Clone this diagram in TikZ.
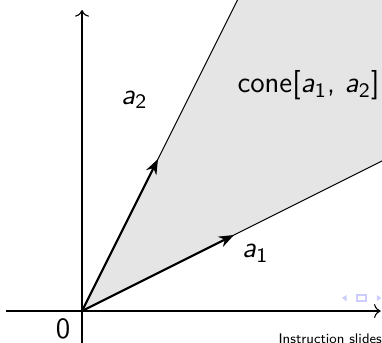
\documentclass[tikz,border=0pt]{standalone}
\usepackage{tikz}
\usetikzlibrary{arrows.meta}

\newcommand{\avec}[1]{\textit{a}\textsubscript{#1}}

\begin{document}
\begin{tikzpicture}[
    font=\sffamily\fontsize{11}{13}\selectfont,
    axisline/.style={thin, ->},
    raybound/.style={thin, black},
    genvec/.style={thick, -{Stealth[length=2mm]}},
    navsym/.style={fill=blue!20!white, draw=none}
]
    \useasboundingbox (-1.079,-0.408) rectangle (3.947,4.092);
    \clip (-1.079,-0.408) rectangle (3.947,4.092);

    \coordinate (O) at (0,0);
    \coordinate (A1) at (2,1);
    \coordinate (A2) at (1,2);
    \coordinate (R1) at (4.4,2.2);
    \coordinate (R2) at (2.2,4.4);

    % the cone
    \fill[gray!20] (O) -- (R2) -- (4.4,4.4) -- (R1) -- cycle;
    \draw[raybound] (O) -- (R1);
    \draw[raybound] (O) -- (R2);

    % axes
    \coordinate (XL) at (-1,0);
    \coordinate (XR) at (3.93,0);
    \coordinate (YB) at (0,-0.6);
    \coordinate (YT) at (0,3.96);
    \draw[axisline] (XL) -- (XR);
    \draw[axisline] (YB) -- (YT);

    \draw[genvec] (O) -- (A1);
    \draw[genvec] (O) -- (A2);

    \node (L1) at (2.28,0.76) {\avec{1}};
    \node (L2) at (0.69,2.78) {\avec{2}};
    \node (LC) at (2.98,2.97) {cone[\avec{1}, \avec{2}]};
    \node (L0) at (-0.25,-0.24) {0};

    % beamer footer leftovers
    \fill[navsym] (3.42,0.17) -- (3.48,0.21) -- (3.48,0.13) -- cycle;
    \draw[blue!20!white, thick] (3.62,0.13) rectangle (3.74,0.21);
    \fill[navsym] (3.94,0.17) -- (3.88,0.21) -- (3.88,0.13) -- cycle;
    \node[anchor=north west, inner sep=0pt, font=\sffamily\fontsize{5.2}{6}\selectfont] (FT) at (2.58,-0.30) {Instruction slides};
\end{tikzpicture}
\end{document}
